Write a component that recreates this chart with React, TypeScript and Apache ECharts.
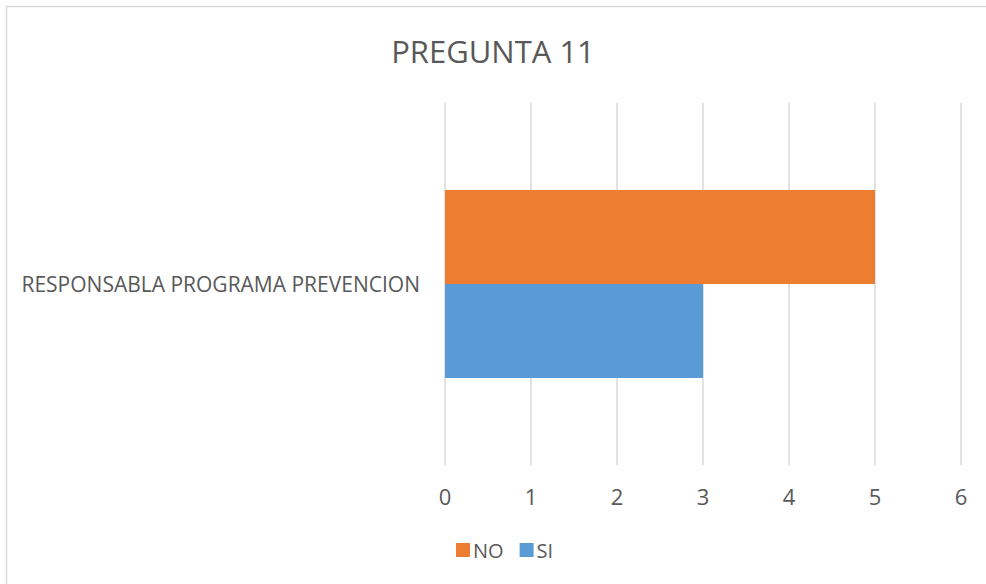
import React, { useEffect, useRef } from "react";
import * as echarts from "echarts";

const categories = ["RESPONSABLA PROGRAMA PREVENCION"];
const siValues = [3];
const noValues = [5];
const xTicks = [0, 1, 2, 3, 4, 5, 6];

export default function App() {
  const ref = useRef<HTMLDivElement>(null);
  useEffect(() => {
    if (!ref.current) return;
    const chart = echarts.init(ref.current, undefined, { renderer: "svg" });
    const font = "'Open Sans', 'Liberation Sans', sans-serif";
    chart.setOption({
      animation: false,
      backgroundColor: "#ffffff",
      title: {
        text: "PREGUNTA 11",
        left: "center",
        top: 30,
        textStyle: { fontFamily: font, fontSize: 31, fontWeight: "normal", color: "#595959" },
      },
      graphic: [
        {
          type: "rect",
          shape: { x: 6.5, y: 6.5, width: 990, height: 600 },
          style: { fill: "none", stroke: "#d9d9d9", lineWidth: 1.5 },
          silent: true,
        },
      ],
      legend: {
        data: ["NO", "SI"],
        top: 535,
        left: 451,
        itemWidth: 14,
        itemHeight: 14,
        itemGap: 16,
        icon: "rect",
        textStyle: { fontFamily: font, fontSize: 20, color: "#595959", padding: [0, 0, 0, -2] },
      },
      grid: { left: 445, right: 25, top: 103, bottom: 119, containLabel: false },
      xAxis: {
        type: "value",
        min: xTicks[0],
        max: xTicks[xTicks.length - 1],
        interval: 1,
        axisLine: { show: false },
        axisTick: { show: false },
        splitLine: { lineStyle: { color: "#d9d9d9", width: 1.5 } },
        axisLabel: { fontFamily: font, fontSize: 22, color: "#595959", margin: 20 },
      },
      yAxis: {
        type: "category",
        data: categories,
        axisLine: { show: false },
        axisTick: { show: false },
        axisLabel: { fontFamily: font, fontSize: 21, color: "#595959", margin: 25 },
      },
      series: [
        {
          name: "NO",
          type: "bar",
          data: noValues,
          itemStyle: { color: "#ED7D31" },
          barGap: "0%",
          barCategoryGap: "48%",
        },
        {
          name: "SI",
          type: "bar",
          data: siValues,
          itemStyle: { color: "#5B9BD5" },
          barGap: "0%",
          barCategoryGap: "48%",
        },
      ],
    });
    return () => chart.dispose();
  }, []);
  return (
    <div
      ref={ref}
      style={{ position: "fixed", left: 0, top: 0, width: 986, height: 584 }}
    />
  );
}
